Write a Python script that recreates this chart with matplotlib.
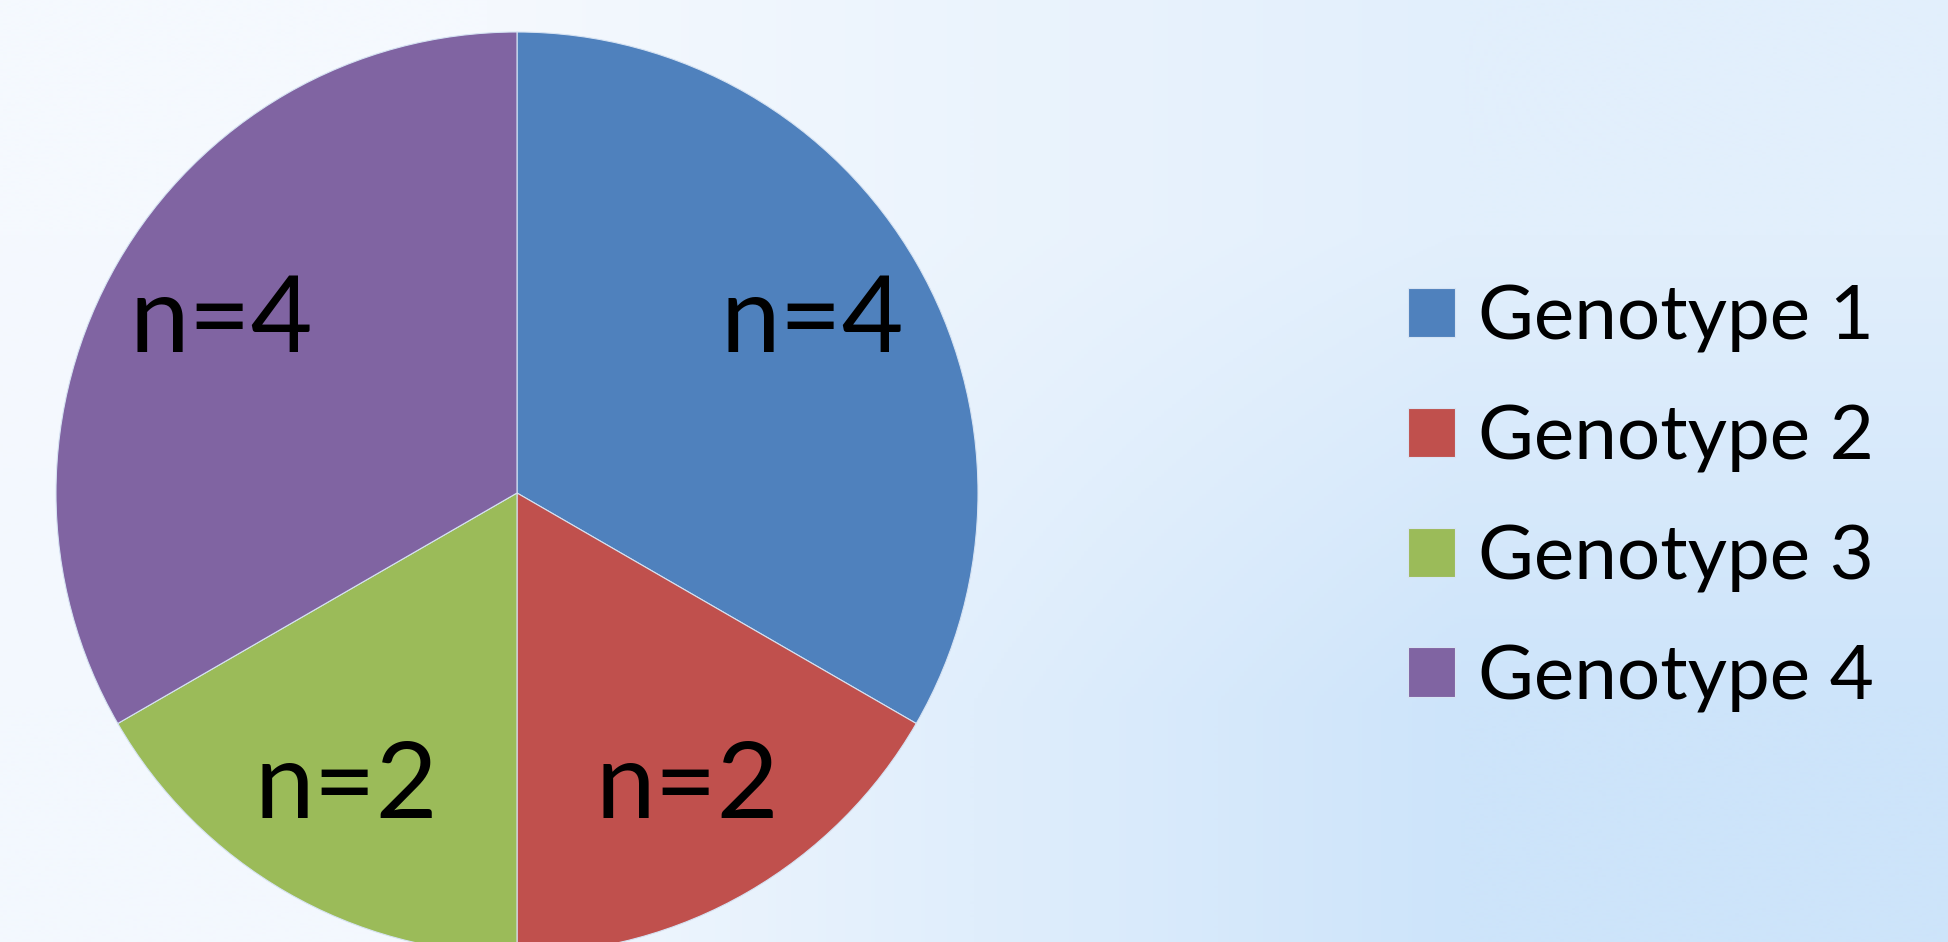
import matplotlib.pyplot as plt
import numpy as np
from matplotlib.colors import to_rgb

plt.rcParams["font.family"] = ["Lato", "DejaVu Sans"]

genotypes = ["Genotype 1", "Genotype 2", "Genotype 3", "Genotype 4"]
counts = [4, 2, 2, 4]
colors = ["#4F81BD", "#C0504D", "#9BBB59", "#8064A2"]

W, H = 1949, 942
fig = plt.figure(figsize=(W / 100, H / 100), dpi=100)

# soft slide-style backdrop: pale at the left, light blue towards bottom-right
bg = fig.add_axes([0, 0, 1, 1])
corners = np.array([
    [to_rgb("#f5f9fe"), to_rgb("#e2effc")],
    [to_rgb("#f3f8fe"), to_rgb("#cde4fa")],
])
bg.imshow(corners, extent=[0, 1, 0, 1], interpolation="bilinear", aspect="auto")
bg.set_axis_off()

ax = fig.add_axes([0, 0, 1, 1])
ax.patch.set_alpha(0)
total = sum(counts)
wedges, _, autotexts = ax.pie(
    counts,
    colors=colors,
    startangle=90,
    counterclock=False,
    center=(517, H - 493),
    radius=461,
    autopct=lambda p: f"n={round(p * total / 100)}",
    pctdistance=0.74,
    wedgeprops=dict(edgecolor="#d6e3f3", linewidth=0.8),
    textprops=dict(fontsize=77, color="black"),
)
ax.set_xlim(0, W)
ax.set_ylim(0, H)
ax.set_aspect("equal")
ax.set_axis_off()

leg = fig.legend(
    wedges,
    genotypes,
    loc="center left",
    bbox_to_anchor=(1408 / W, 1 - 498 / H),
    frameon=False,
    fontsize=55,
    borderpad=0,
    borderaxespad=0,
    handlelength=0.62,
    handleheight=0.62,
    handletextpad=0.3,
    labelspacing=0.66,
)

fig.savefig("out.png", dpi=100)
